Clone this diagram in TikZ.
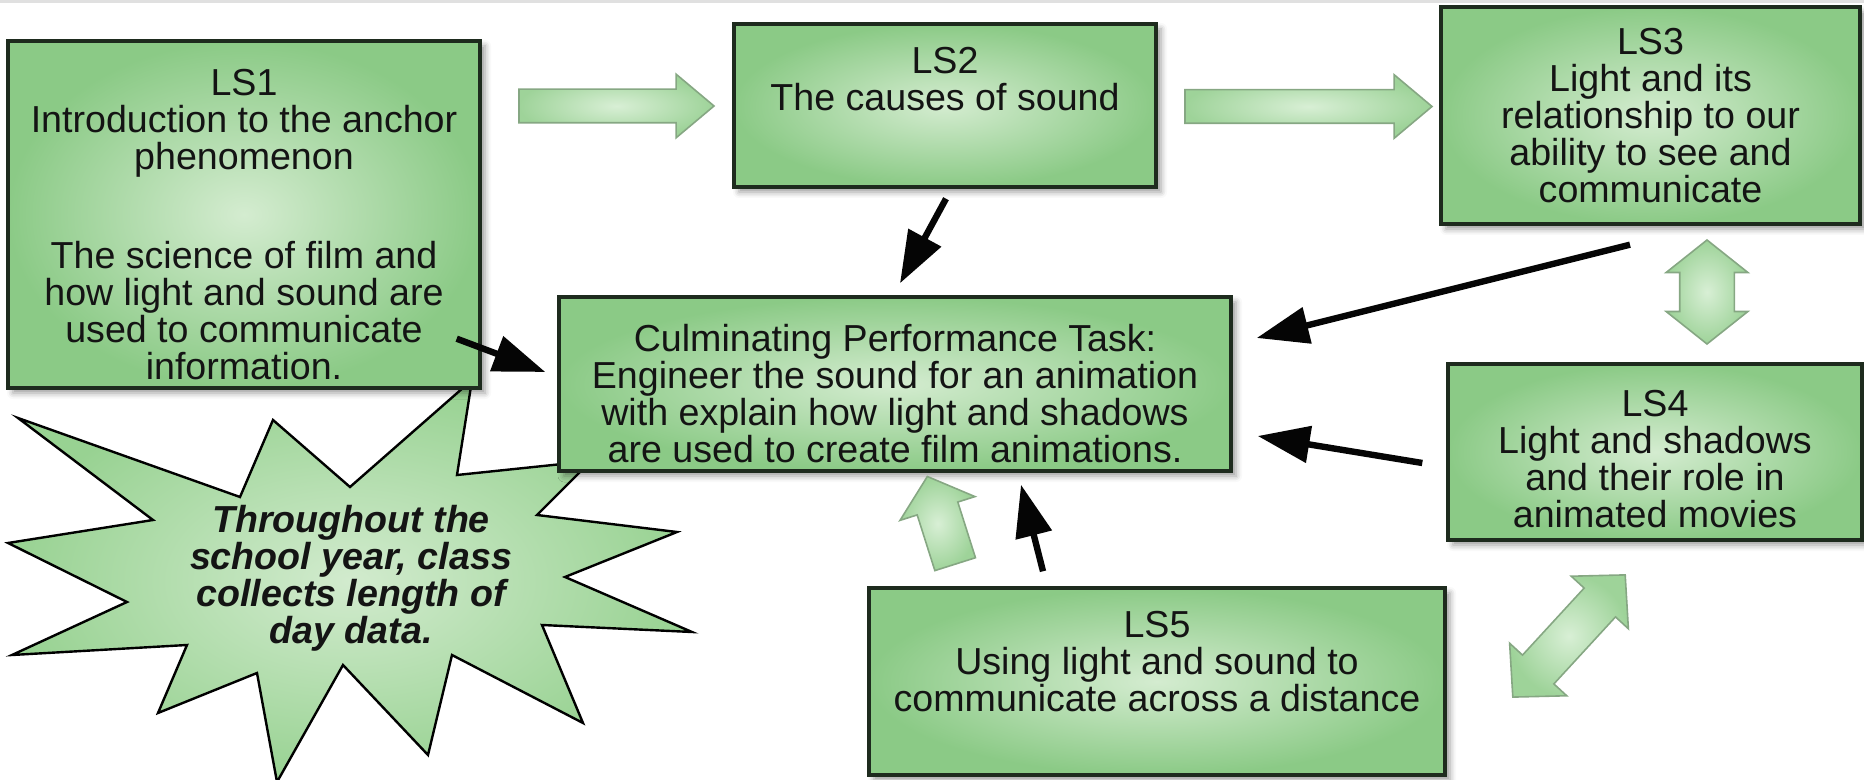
\documentclass[tikz,border=0pt]{standalone}
\usepackage{fontspec}
\setmainfont{Liberation Sans}
\usepackage{xcolor}
\usetikzlibrary{
  arrows.meta,
  shapes.arrows,
  shadows.blur,
  calc
}
\definecolor{lsouter}   {HTML}{8BCA86}
\definecolor{lsinner}   {HTML}{D4ECD0}
\definecolor{lsborder}  {HTML}{1E2B1E}
\definecolor{lstext}    {HTML}{141414}
\definecolor{flowouter} {HTML}{9ED399}
\definecolor{flowinner} {HTML}{D8EFD5}
\definecolor{flowline}  {HTML}{86A783}
\definecolor{burstouter}{HTML}{98D292}
\definecolor{burstinner}{HTML}{D2EBCE}
\definecolor{linkblack} {HTML}{050505}

\begin{document}
\begin{tikzpicture}[
  x=0.5pt, y=0.5pt,
  every node/.style={font=\fontsize{18.8pt}{18.5pt}\selectfont, text=lstext},
  box/.style={
    rectangle, draw=lsborder, line width=1.7pt, inner sep=0pt,
    inner color=lsinner, outer color=lsouter, align=center,
    blur shadow={shadow xshift=2.5pt, shadow yshift=-2.5pt, shadow blur radius=3pt}
  },
  flow/.style={single arrow, draw=flowline, line width=0.8pt, inner xsep=0pt,
    minimum width=0pt, inner color=flowinner, outer color=flowouter},
  flowboth/.style={double arrow, draw=flowline, line width=0.8pt, inner xsep=0pt,
    minimum width=0pt, inner color=flowinner, outer color=flowouter},
  link/.style={-{Triangle[length=26pt,width=18pt]}, line width=3.2pt, draw=linkblack},
  burst/.style={draw=black, line width=1.2pt, inner color=burstinner, outer color=burstouter},
  burstlabel/.style={font=\fontsize{18.8pt}{18.5pt}\selectfont\bfseries\itshape, align=center},
  topline/.style={draw=black!12, line width=1.5pt},
]
\useasboundingbox (0,0) rectangle (1864,-780);
\draw[topline] (0,-1.5) -- (1864,-1.5);

% starburst behind the boxes
\draw[burst] (18,-418) -- (240,-497) -- (273,-420) -- (350,-487) -- (472,-380)
  -- (457,-475) -- (591,-461) -- (537,-515) -- (677,-532) -- (565,-577)
  -- (692,-632) -- (542,-625) -- (583,-723) -- (452,-655) -- (428,-755)
  -- (343,-665) -- (277,-782) -- (257,-673) -- (158,-713) -- (187,-645)
  -- (12,-655) -- (127,-602) -- (8,-543) -- (153,-520) -- cycle;
\node[burstlabel] (year) at (351,-578)
  {Throughout the\\school year, class\\collects length of\\day data.};

% lessons
\node[box, minimum width=236pt, minimum height=173.5pt] (ls1) at (244,-214.5)
  {\rule{0pt}{23.5pt}LS1\\Introduction to the anchor\\phenomenon\\[31pt]The science of film and\\how light and sound are\\used to communicate\\information.};
\node[box, minimum width=211pt, minimum height=81.5pt] (ls2) at (945,-105.5)
  {LS2\\The causes of sound\\[8pt]~};
\node[box, minimum width=209.5pt, minimum height=108.5pt] (ls3) at (1650.5,-115.5)
  {LS3\\Light and its\\relationship to our\\ability to see and\\communicate};
\node[box, minimum width=207pt, minimum height=88pt] (ls4) at (1655,-452)
  {\rule{0pt}{20.5pt}LS4\\Light and shadows\\and their role in\\animated movies};
\node[box, minimum width=288pt, minimum height=93.5pt] (ls5) at (1157,-681.5)
  {LS5\\Using light and sound to\\communicate across a distance\\[2pt]~};
\node[box, minimum width=336pt, minimum height=87pt] (cpt) at (895,-384)
  {\rule{0pt}{23pt}Culminating Performance Task:\\Engineer the sound for an animation\\with explain how light and shadows\\are used to create film animations.};

% sequence arrows
\node[flow, minimum height=97.5pt, inner ysep=8pt, single arrow head extend=7.5pt,
  single arrow tip angle=80] (step12) at (606.5,-106) {};
\node[flow, minimum height=123.5pt, inner ysep=8pt, single arrow head extend=7.5pt,
  single arrow tip angle=80] (step23) at (1298.5,-106.5) {};
\node[flowboth, rotate=90, minimum height=52pt, inner ysep=13.25pt,
  double arrow head extend=6.75pt, double arrow tip angle=103] (link34) at (1707,-292) {};
\node[flowboth, rotate=47.4, minimum height=83pt, inner ysep=10.25pt,
  double arrow head extend=8.75pt, double arrow tip angle=92] (link45) at (1569,-636) {};
\node[flow, rotate=107.6, minimum height=46pt, inner ysep=10.25pt,
  single arrow head extend=9pt, single arrow tip angle=99] (step5c) at (944,-529) {};

% arrows into the task
\draw[link] ([shift={(-25,51)}]ls1.south east) -- ([shift={(-12,12)}]cpt.west);
\draw[link] ([shift={(1,-10)}]ls2.south) -- ([shift={(5,12)}]cpt.north);
\draw[link] ([shift={(-20.5,-19)}]ls3.south) -- ([shift={(24,46)}]cpt.east);
\draw[link] ([shift={(-24,-11)}]ls4.west) -- ([shift={(25,-52)}]cpt.east);
\draw[link] ([shift={(-114,15)}]ls5.north) -- ([shift={(126,-12)}]cpt.south);
\end{tikzpicture}
\end{document}
